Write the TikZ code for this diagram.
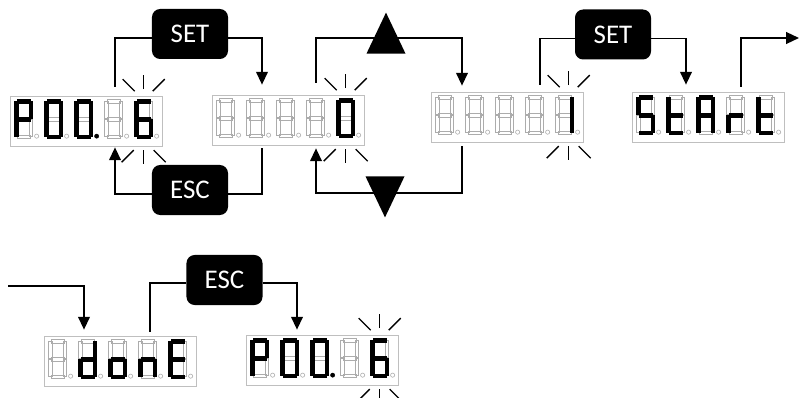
\documentclass[tikz,border=0pt]{standalone}
\usepackage{fontspec}
\newfontfamily\keyfont{Carlito}
\usetikzlibrary{arrows.meta, shapes.geometric}

% segments of one digit, in px with y downwards
\def\dsga{(2.5,0) rectangle (15.5,3.8)}
\def\dsgb{(14.2,2) rectangle (18,19)}
\def\dsgc{(14.2,20) rectangle (18,37)}
\def\dsgd{(2.5,35.2) rectangle (15.5,39)}
\def\dsge{(0,20) rectangle (3.8,37)}
\def\dsgf{(0,2) rectangle (3.8,19)}
\def\dsgg{(2.5,17.6) rectangle (15.5,21.4)}
\def\dsgp{(22,36.5) circle[radius=1.8pt]}
\def\dsgz{}

% five digits of a display node
\newcommand\readout[2]{%
  \foreach \segs [count=\i from 0] in {#2} {%
    \begin{scope}[shift={(#1.north west)}, shift={(5+30*\i,4)}]
      \foreach \s in {a,b,c,d,e,f,g,p} \draw[segoff] \csname dsg\s\endcsname;
      \foreach \s in \segs \fill[segon] \csname dsg\s\endcsname;
    \end{scope}}}

% blinking marks round a digit
\newcommand\blink[2]{%
  \begin{scope}[shift={(#1.north west)}, shift={(#2,23.5)}]
    \foreach \xa/\ya/\xb/\yb in {0/-30/0/-44, -9/-28/-21/-40, 9/-28/21/-40,
                                 0/31/0/45, -10/31/-22/43, 10/31/22/43}
      \draw[ray] (\xa,\ya) -- (\xb,\yb);
  \end{scope}}

\begin{document}
\begin{tikzpicture}[
    x=0.03cm, y=-0.03cm,
    display/.style={rectangle, draw=gray!50, line width=0.6pt, minimum width=4.56cm, minimum height=1.5cm, inner sep=0pt},
    keybox/.style={rectangle, rounded corners=7pt, fill=black, text=white, font=\keyfont\fontsize{23}{27}\selectfont, minimum width=2.28cm, minimum height=1.5cm, inner sep=0pt},
    keytri/.style={isosceles triangle, isosceles triangle stretches, fill=black, inner sep=0pt, minimum width=1.17cm, minimum height=1.23cm},
    segoff/.style={draw=gray!65, line width=0.5pt},
    segon/.style={fill=black, draw=black, line width=0.3pt},
    ray/.style={line width=1.2pt},
    wire/.style={line width=1.5pt},
    arr/.style={wire, -{Triangle[length=11pt,width=10pt]}}
]
\useasboundingbox (0,0) rectangle (801,398);

\node[display] (d1) at (86,121) {};
\node[display] (d2) at (288,120) {};
\node[display] (d3) at (507,117) {};
\node[display] (d4) at (708,117) {};
\node[display] (d5) at (120,361) {};
\node[display] (d6) at (322,360) {};

\node[keybox] (set1) at (190,34) {SET};
\node[keybox] (esc1) at (190,190) {ESC};
\node[keybox] (set2) at (613,34.5) {SET};
\node[keybox] (esc2) at (224.5,280) {ESC};
\node[keytri, shape border rotate=90, anchor=apex] (up) at (386,12) {};
\node[keytri, shape border rotate=270, anchor=apex] (down) at (385,218) {};

\coordinate (exit) at (799,38);
\coordinate (entry) at (8,286);

\readout{d1}{{a,b,e,f,g},{a,b,c,d,e,f},{a,b,c,d,e,f,p},{z},{a,c,d,e,f,g}}
\readout{d2}{{z},{z},{z},{z},{a,b,c,d,e,f}}
\readout{d3}{{z},{z},{z},{z},{b,c}}
\readout{d4}{{a,c,d,f,g},{d,e,f,g},{a,b,c,e,f,g},{e,g},{d,e,f,g}}
\readout{d5}{{z},{b,c,d,e,g},{c,d,e,g},{c,e,g},{a,d,e,f,g}}
\readout{d6}{{a,b,e,f,g},{a,b,c,d,e,f},{a,b,c,d,e,f,p},{z},{a,c,d,e,f,g}}

\blink{d1}{134}
\blink{d2}{134}
\blink{d3}{138}
\blink{d6}{134}

\draw[wire] ([xshift=0.87cm,yshift=0.27cm]d1.north) |- ([yshift=-0.12cm]set1.west);
\draw[arr] ([yshift=-0.12cm]set1.east) -| ([xshift=-0.78cm,yshift=0.3cm]d2.north);
\draw[wire] ([xshift=-0.78cm,yshift=-0.09cm]d2.south) |- ([yshift=-0.12cm]esc1.east);
\draw[arr] ([yshift=-0.12cm]esc1.west) -| ([xshift=0.87cm,yshift=-0.03cm]d1.south);

\draw[arr] ([xshift=0.84cm,yshift=0.36cm]d2.north) |- ([yshift=-0.78cm]up.apex) -| ([xshift=-1.35cm,yshift=0.18cm]d3.north);
\draw[arr] ([xshift=-1.35cm,yshift=-0.12cm]d3.south) |- ([yshift=0.75cm]down.apex) -| ([xshift=0.84cm,yshift=-0.09cm]d2.south);

\draw[wire] ([xshift=0.99cm,yshift=0.21cm]d3.north) |- ([yshift=-0.12cm]set2.west);
\draw[arr] ([yshift=-0.12cm]set2.east) -| ([xshift=-0.66cm,yshift=0.21cm]d4.north);
\draw[arr] ([xshift=0.99cm,yshift=0.15cm]d4.north) |- (exit);

\draw[arr] (entry) -| ([xshift=-1.08cm,yshift=0.18cm]d5.north);
\draw[wire] ([xshift=0.9cm,yshift=0.12cm]d5.north) |- ([yshift=-0.09cm]esc2.west);
\draw[arr] ([yshift=-0.09cm]esc2.east) -| ([xshift=-0.75cm,yshift=0.15cm]d6.north);
\end{tikzpicture}
\end{document}
